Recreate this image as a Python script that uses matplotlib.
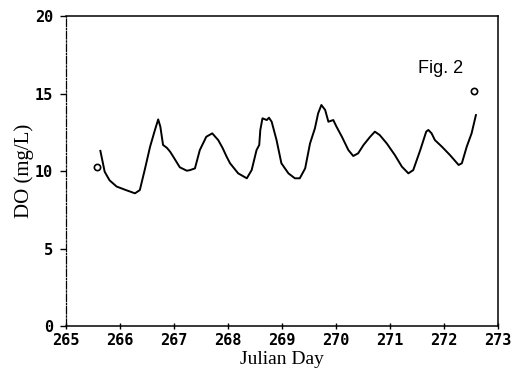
import matplotlib
matplotlib.use("Agg")
import matplotlib.pyplot as plt

# DO trace
days = [265.64, 265.72, 265.81, 265.94, 266.09, 266.28, 266.37, 266.46, 266.56,
        266.65, 266.71, 266.75, 266.80, 266.87, 266.93, 266.99, 267.11, 267.24,
        267.30, 267.39, 267.48, 267.60, 267.71, 267.82, 267.90, 267.98, 268.04,
        268.19, 268.35, 268.44, 268.53, 268.58, 268.60, 268.64, 268.72, 268.76,
        268.81, 268.90, 268.99, 269.12, 269.24, 269.33, 269.43, 269.52, 269.61,
        269.67, 269.73, 269.80, 269.86, 269.95, 270.01, 270.11, 270.23, 270.32,
        270.41, 270.51, 270.63, 270.72, 270.81, 270.94, 271.09, 271.22, 271.34,
        271.43, 271.56, 271.67, 271.71, 271.77, 271.83, 271.96, 272.11, 272.27,
        272.33, 272.42, 272.51, 272.59]
do = [11.3, 9.95, 9.4, 9.0, 8.8, 8.56, 8.77, 10.06, 11.57,
      12.65, 13.33, 12.86, 11.68, 11.5, 11.25, 10.92, 10.24, 10.02,
      10.06, 10.17, 11.35, 12.21, 12.43, 12.0, 11.5, 10.9, 10.5,
      9.85, 9.53, 10.06, 11.35, 11.68, 12.65, 13.4, 13.29, 13.44,
      13.18, 12.0, 10.5, 9.85, 9.53, 9.53, 10.17, 11.78, 12.75,
      13.72, 14.26, 13.94, 13.18, 13.29, 12.86, 12.21, 11.35, 10.97,
      11.14, 11.68, 12.2, 12.54, 12.32, 11.78, 11.03, 10.28, 9.85,
      10.06, 11.35, 12.54, 12.65, 12.43, 12.0, 11.57, 11.03, 10.39,
      10.5, 11.57, 12.43, 13.61]

# measured points (open circles)
obs_days = [265.57, 272.56]
obs_do = [10.28, 15.16]

xticks = [265, 266, 267, 268, 269, 270, 271, 272, 273]
yticks = [0, 5, 10, 15, 20]

fig = plt.figure(figsize=(5.14, 3.73), dpi=100)
ax = fig.add_axes([0.128, 0.126, 0.841, 0.831])

ax.plot(days, do, color="black", linewidth=1.4)
ax.plot(obs_days, obs_do, "o", mfc="white", mec="black", ms=4.5, mew=1.2)

ax.set_xlim(265, 273)
ax.set_ylim(0, 20)
ax.set_xticks(xticks)
ax.set_yticks(yticks)

tickfont = {"family": "DejaVu Sans Mono", "weight": "bold", "size": 11}
ax.set_xticklabels([str(t) for t in xticks], fontdict=tickfont)
ax.set_yticklabels([str(t) for t in yticks], fontdict=tickfont)
ax.tick_params(axis="x", direction="inout", length=4, width=1, pad=3)
ax.tick_params(axis="y", direction="out", length=4, width=1, pad=5)

for s in ax.spines.values():
    s.set_linewidth(1.1)
ax.spines["left"].set_linestyle((0, (6, 1.5, 1, 1.5)))
ax.spines["left"].set_linewidth(0.9)

ax.set_xlabel("Julian Day", family="Liberation Serif", fontsize=14, labelpad=2)
ax.set_ylabel("DO (mg/L)", family="Liberation Serif", fontsize=15, labelpad=1)

ax.text(271.94, 16.6, "Fig. 2", family="Liberation Sans", fontsize=13,
        ha="center", va="center")

fig.savefig("out.png", dpi=100)
